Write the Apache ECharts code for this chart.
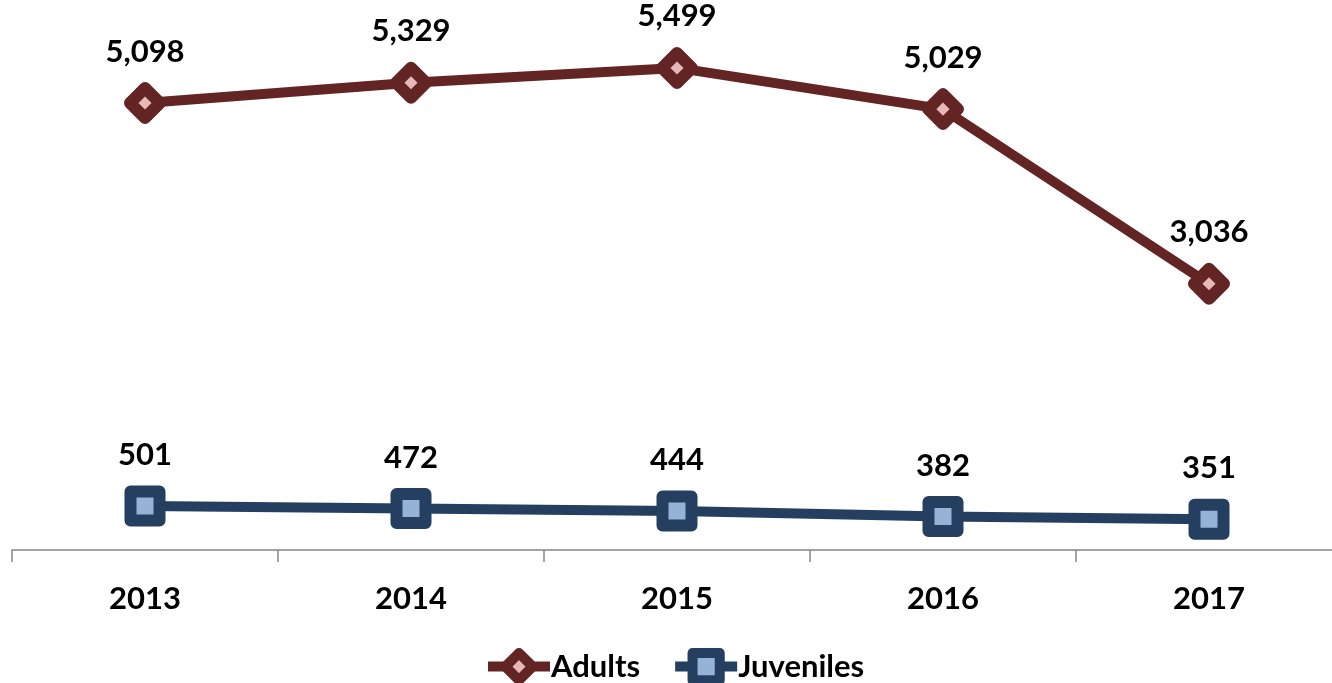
<!DOCTYPE html>
<html>
<head>
<meta charset="utf-8">
<script src="https://cdn.jsdelivr.net/npm/echarts@6/dist/echarts.min.js"></script>
<style>
  html, body { margin: 0; padding: 0; background: #fff; overflow: hidden; width: 1332px; height: 683px; }
  #chart { width: 1342px; height: 683px; }
</style>
</head>
<body>
<div id="chart"></div>
<script>
// Yearly counts
const years = ['2013', '2014', '2015', '2016', '2017'];
const adults = [5098, 5329, 5499, 5029, 3036];
const juveniles = [501, 472, 444, 382, 351];

const FONT = 'Lato, "Open Sans", sans-serif';
const ADULT_DARK = '#632523', ADULT_LIGHT = '#e6b9b8';
const JUV_DARK = '#243f60', JUV_LIGHT = '#95b3d7';
const chart = echarts.init(document.getElementById('chart'));

const labelStyle = {
  show: true,
  position: 'top',
  distance: 15,
  color: '#000',
  fontFamily: FONT,
  fontWeight: 'bold',
  fontSize: 31,
  formatter: p => p.value.toLocaleString('en-US')
};

chart.setOption({
  animation: false,
  grid: { left: 12, right: 0, top: 24, bottom: 133, containLabel: false },
  legend: {
    top: 648,
    left: 483,
    padding: 0,
    itemWidth: 62,
    itemHeight: 34,
    itemGap: 30,
    textStyle: { fontFamily: FONT, fontWeight: 'bold', fontSize: 31, color: '#000', padding: [0, 0, 0, -4] },
    data: [
      {
        name: 'Adults',
        itemStyle: { color: ADULT_LIGHT, borderColor: ADULT_DARK, borderWidth: 10, borderJoin: 'round' },
        lineStyle: { color: ADULT_DARK, width: 10 }
      },
      {
        name: 'Juveniles',
        itemStyle: { color: JUV_LIGHT, borderColor: JUV_DARK, borderWidth: 10, borderJoin: 'round' },
        lineStyle: { color: JUV_DARK, width: 10 }
      }
    ]
  },
  xAxis: {
    type: 'category',
    data: years,
    boundaryGap: true,
    axisLine: { lineStyle: { color: '#868686', width: 1.5 } },
    axisTick: { show: true, length: 12, lineStyle: { color: '#868686', width: 1.5 } },
    axisLabel: { color: '#000', fontFamily: FONT, fontWeight: 'bold', fontSize: 31, margin: 33 }
  },
  yAxis: {
    type: 'value',
    min: 0,
    max: 6000,
    show: false,
    splitLine: { show: false }
  },
  series: [
    {
      name: 'Adults',
      type: 'line',
      data: adults,
      symbol: 'diamond',
      symbolSize: 30,
      lineStyle: { color: ADULT_DARK, width: 10 },
      itemStyle: { color: ADULT_LIGHT, borderColor: ADULT_DARK, borderWidth: 12, borderJoin: 'round' },
      label: labelStyle,
      z: 3
    },
    {
      name: 'Juveniles',
      type: 'line',
      data: juveniles,
      symbol: 'rect',
      symbolSize: 29,
      lineStyle: { color: JUV_DARK, width: 10 },
      itemStyle: { color: JUV_LIGHT, borderColor: JUV_DARK, borderWidth: 12, borderJoin: 'round' },
      label: labelStyle,
      z: 3
    }
  ]
});
</script>
</body>
</html>
